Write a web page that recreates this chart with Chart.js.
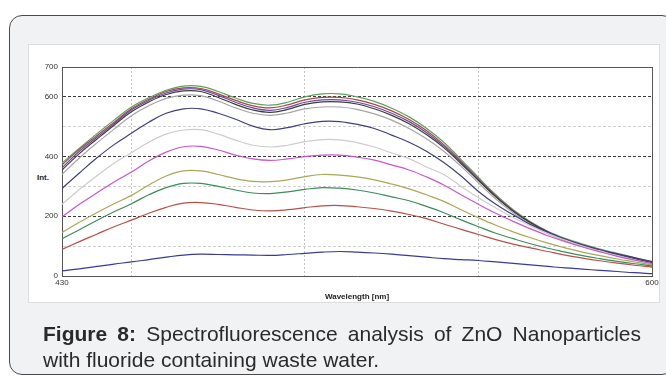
<!DOCTYPE html>
<html>
<head>
<meta charset="utf-8">
<script src="https://cdn.jsdelivr.net/npm/chart.js@4.4.1/dist/chart.umd.min.js"></script>
<style>
  html, body { margin: 0; padding: 0; background: #ffffff; width: 666px; height: 376px; overflow: hidden; }
  #frame { position: absolute; left: 9px; top: 15px; width: 664px; height: 358px; border: 1.5px solid #4a4a4a; border-radius: 13px; background: #f1f2f4; }
  #panel { position: absolute; left: 28px; top: 44px; width: 632px; height: 259px; background: #ffffff; border: 1px solid #dcdde0; box-sizing: border-box; }
  #chartbox { position: absolute; left: 0; top: 0; width: 666px; height: 376px; }
  #ylab { position: absolute; left: 37px; top: 173px; font: bold 8px "Liberation Sans", Arial, sans-serif; color: #222; }
  #caption { position: absolute; left: 43px; top: 321px; width: 598px; font: 21px/26px "Liberation Sans", Arial, sans-serif; color: #2a2a2a; text-align: justify; text-align-last: left; }
  #caption b { font-weight: bold; }
</style>
</head>
<body>
<div id="frame"></div>
<div id="panel"></div>
<div id="ylab">Int.</div>
<div id="chartbox"><canvas id="c" width="666" height="376"></canvas></div>
<div id="caption"><b>Figure 8:</b> Spectrofluorescence analysis of ZnO Nanoparticles with fluoride containing waste water.</div>
<script>
const wavelengths = [430,435,440,445,450,455,460,465,470,475,480,485,490,495,500,505,510,515,520,525,530,535,540,545,550,555,560,565,570,575,580,585,590,595,600];

const seriesGreenTop = [378,428,476,522,566,597,622,636,635,618,596,578,572,582,600,610,610,600,585,562,533,495,448,390,330,272,222,182,150,126,107,90,76,62,48];
const seriesMaroon   = [372,424,470,515,560,592,618,630,628,610,588,570,563,573,590,598,598,590,575,553,524,487,440,384,325,268,219,179,147,123,104,87,73,60,46];
const seriesPurple   = [362,418,464,510,556,588,613,626,624,605,582,563,555,565,582,590,590,582,567,545,517,481,435,380,322,266,218,178,147,123,104,88,74,61,48];
const seriesBlack    = [355,410,458,505,550,583,608,620,618,598,575,556,548,558,575,583,583,576,560,538,510,474,430,376,320,265,217,178,146,122,103,87,73,60,47];
const seriesGray     = [340,395,445,492,537,570,595,606,604,586,563,545,538,546,560,566,566,558,543,522,494,460,418,367,312,258,212,173,142,118,100,84,70,57,44];
const seriesNavy     = [293,345,395,440,478,515,545,560,560,545,525,502,490,497,510,518,517,508,494,472,448,418,380,335,283,240,205,172,146,122,103,87,72,58,45];
const seriesLightGray= [240,290,335,378,413,448,475,489,490,475,455,438,432,438,450,457,456,447,432,412,393,365,340,300,262,228,196,168,142,120,100,84,68,54,40];
const seriesMagenta  = [198,240,278,315,348,385,415,433,434,422,405,392,387,392,400,405,405,398,388,372,355,332,305,272,240,210,183,158,135,115,97,81,66,53,42];
const seriesOlive    = [146,180,212,242,270,305,335,352,352,340,326,317,316,322,333,340,338,332,322,308,292,272,250,222,195,170,148,128,110,94,80,68,57,47,37];
const seriesGreen    = [125,155,186,215,242,272,296,310,310,300,288,278,276,282,290,296,294,288,278,265,252,233,212,188,165,143,125,108,93,80,68,58,49,41,34];
const seriesRed      = [89,115,140,165,187,210,230,244,246,240,230,221,218,222,229,235,236,232,226,217,206,192,174,156,139,122,107,94,82,70,60,51,43,36,30];
const seriesNavyLow  = [17,24,32,40,47,55,63,70,73,72,71,70,69,72,76,80,82,80,77,73,68,63,58,55,52,47,42,37,32,27,23,19,15,11,8];

const yTickLabels = [0,200,400,600,700];
const yMajorGrid = [200,400,600];
const yMinorGrid = [100,300,500];
const xTickLabels = [430,600];
const xGrid = [450,500,550];

const seriesList = [
  {name:'s1', data: seriesNavyLow,  color:'#3a3a92'},
  {name:'s2', data: seriesRed,      color:'#b8504a'},
  {name:'s3', data: seriesGreen,    color:'#3d8c5c'},
  {name:'s4', data: seriesOlive,    color:'#a8a858'},
  {name:'s5', data: seriesMagenta,  color:'#c957c9'},
  {name:'s6', data: seriesLightGray,color:'#cdcdcd'},
  {name:'s7', data: seriesNavy,     color:'#3f3f82'},
  {name:'s8', data: seriesGray,     color:'#a5a5a5'},
  {name:'s9', data: seriesBlack,    color:'#3c3c3c'},
  {name:'s10', data: seriesPurple,  color:'#6b4a9c'},
  {name:'s11', data: seriesMaroon,  color:'#a04a4a'},
  {name:'s12', data: seriesGreenTop,color:'#5fa05f'}
];

const datasets = seriesList.map(s => ({
  label: s.name,
  data: wavelengths.map((w, i) => ({x: w, y: s.data[i]})),
  borderColor: s.color,
  borderWidth: 1.2,
  pointRadius: 0,
  tension: 0.4,
  fill: false
}));

const tickFont = {family: '"Liberation Sans", Arial, sans-serif', size: 8};

new Chart(document.getElementById('c'), {
  type: 'line',
  data: { datasets },
  options: {
    responsive: false,
    animation: false,
    layout: { padding: { left: 28, right: 14, top: 67, bottom: 74 } },
    plugins: { legend: { display: false }, tooltip: { enabled: false } },
    scales: {
      x: {
        type: 'linear', position: 'bottom', min: 430, max: 600,
        afterBuildTicks: (axis) => { axis.ticks = [430, ...xGrid, 600].map(v => ({value: v})); },
        afterFit: (axis) => { axis.height = 26; },
        ticks: {
          font: tickFont, color: '#333', padding: 2, maxRotation: 0, autoSkip: false,
          callback: (v) => xTickLabels.includes(v) ? String(v) : ''
        },
        grid: {
          drawTicks: false,
          lineWidth: 1,
          color: (ctx) => (ctx.tick && xGrid.includes(ctx.tick.value)) ? '#c4c4c4' : 'rgba(0,0,0,0)'
        },
        border: { display: true, color: '#555', width: 1, dash: [2, 2] },
        title: { display: true, text: 'Wavelength [nm]', color: '#222', padding: {top: 0, bottom: 0},
                 font: {family: '"Liberation Sans", Arial, sans-serif', size: 8, weight: 'bold'} }
      },
      xTop: {
        type: 'linear', position: 'top', min: 430, max: 600,
        afterFit: (axis) => { axis.height = 0; },
        ticks: { display: false },
        grid: { display: true, drawOnChartArea: false, drawTicks: false },
        border: { display: true, color: '#555', width: 1 }
      },
      y: {
        type: 'linear', position: 'left', min: 0, max: 700,
        afterBuildTicks: (axis) => { axis.ticks = [0,100,200,300,400,500,600,700].map(v => ({value: v})); },
        afterFit: (axis) => { axis.width = 34; },
        ticks: {
          font: tickFont, color: '#333', padding: 4, autoSkip: false,
          callback: (v) => yTickLabels.includes(v) ? String(v) : ''
        },
        grid: {
          drawTicks: false,
          lineWidth: 1,
          color: (ctx) => {
            const v = ctx.tick ? ctx.tick.value : null;
            if (yMajorGrid.includes(v)) return '#3a3a3a';
            if (yMinorGrid.includes(v)) return '#cfcfcf';
            return 'rgba(0,0,0,0)';
          }
        },
        border: { display: true, color: '#555', width: 1, dash: [3, 2] }
      },
      yRight: {
        type: 'linear', position: 'right', min: 0, max: 700,
        afterFit: (axis) => { axis.width = 0; },
        ticks: { display: false },
        grid: { display: true, drawOnChartArea: false, drawTicks: false },
        border: { display: true, color: '#555', width: 1 }
      }
    }
  }
});
</script>
</body>
</html>
